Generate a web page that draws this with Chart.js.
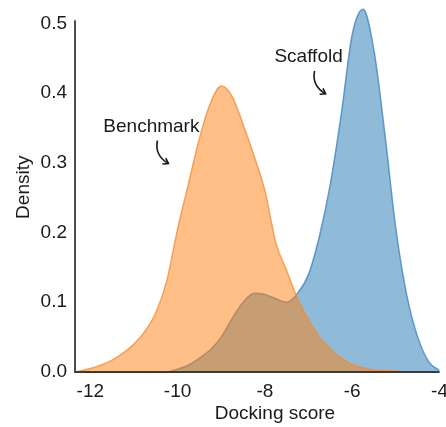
<!DOCTYPE html>
<html>
<head>
<meta charset="utf-8">
<script src="https://cdn.jsdelivr.net/npm/chart.js@4.4.1/dist/chart.umd.min.js"></script>
<style>
  html, body { margin: 0; padding: 0; background: #fff; overflow: hidden; }
  canvas { display: block; margin-top: -17px; }
</style>
</head>
<body>
<canvas id="chart" width="456" height="444" style="width:456px;height:444px"></canvas>
<script>
// docking score grid (x) and the two density curves
const scores = [-12.35, -12, -11.75, -11.5, -11.25, -11, -10.75, -10.5, -10.25, -10,
  -9.75, -9.5, -9.25, -9, -8.75, -8.5, -8.25, -8, -7.75, -7.5, -7.25, -7,
  -6.75, -6.5, -6.25, -6, -5.75, -5.5, -5.25, -5, -4.75, -4.5, -4.25, -4];

const benchmark = [0, 0.005, 0.01, 0.017, 0.027, 0.04, 0.058, 0.085, 0.13, 0.205,
  0.27, 0.335, 0.385, 0.41, 0.395, 0.355, 0.31, 0.26, 0.185, 0.145, 0.105, 0.075,
  0.05, 0.033, 0.02, 0.011, 0.006, 0.003, 0.002, 0.001, 0, 0, 0, 0];

const scaffold = [0, 0, 0, 0, 0, 0, 0, 0, 0, 0.004,
  0.01, 0.02, 0.032, 0.05, 0.077, 0.1, 0.113, 0.111, 0.105, 0.1, 0.113, 0.14,
  0.195, 0.27, 0.37, 0.484, 0.52, 0.46, 0.34, 0.205, 0.11, 0.05, 0.015, 0.002];

const xTicks = [-12, -10, -8, -6, -4];
const yTicks = [0, 0.1, 0.2, 0.3, 0.4, 0.5];

const toPoints = (ys) => scores.map((x, i) => ({ x: x, y: ys[i] }));

const FONT = "'Liberation Sans', Arial, sans-serif";

// text labels with little curved arrows, plus the two axis lines
const extras = {
  id: "extras",
  afterDatasetsDraw(chart) {
    const { ctx, scales: { x, y }, chartArea } = chart;
    ctx.save();

    // axis lines
    ctx.strokeStyle = "#3a3a3a";
    ctx.lineWidth = 1.8;
    ctx.beginPath();
    ctx.moveTo(chartArea.left, y.getPixelForValue(0.5) - 3);
    ctx.lineTo(chartArea.left, y.getPixelForValue(0));
    ctx.lineTo(x.getPixelForValue(-4), y.getPixelForValue(0));
    ctx.stroke();

    const notes = [
      { text: "Benchmark", x: -10.6, y: 0.352 },
      { text: "Scaffold", x: -7.0, y: 0.452 },
    ];
    ctx.font = "19px " + FONT;
    ctx.fillStyle = "#1a1a1a";
    ctx.textAlign = "center";
    ctx.textBaseline = "middle";
    notes.forEach((n) => {
      const px = x.getPixelForValue(n.x);
      const py = y.getPixelForValue(n.y);
      ctx.fillText(n.text, px, py);

      // curved arrow below the label
      const ax = px + 6;
      const ay = py + 14;
      const ex = ax + 11, ey = ay + 23;
      ctx.strokeStyle = "#1a1a1a";
      ctx.lineWidth = 1.6;
      ctx.beginPath();
      ctx.moveTo(ax, ay);
      ctx.quadraticCurveTo(ax - 3, ay + 15, ex, ey);
      ctx.stroke();
      const ang = Math.atan2(ey - (ay + 15), ex - (ax - 3));
      ctx.beginPath();
      ctx.moveTo(ex - 6 * Math.cos(ang - 0.6), ey - 6 * Math.sin(ang - 0.6));
      ctx.lineTo(ex, ey);
      ctx.lineTo(ex - 6 * Math.cos(ang + 0.6), ey - 6 * Math.sin(ang + 0.6));
      ctx.stroke();
    });

    // x axis title (sits a bit right of centre in the reference)
    ctx.font = "19px " + FONT;
    ctx.fillText("Docking score", chartArea.left + 200, chartArea.bottom + 42);
    ctx.restore();
  },
};

const ctx = document.getElementById("chart").getContext("2d");
const myChart = new Chart(ctx, {
  type: "line",
  data: {
    datasets: [
      {
        label: "Benchmark",
        data: toPoints(benchmark),
        fill: "origin",
        backgroundColor: "rgba(255, 127, 14, 0.5)",
        borderColor: "rgba(240, 140, 50, 0.75)",
        borderWidth: 1.5,
        pointRadius: 0,
        cubicInterpolationMode: "monotone",
      },
      {
        label: "Scaffold",
        data: toPoints(scaffold),
        fill: "origin",
        backgroundColor: "rgba(31, 119, 180, 0.5)",
        borderColor: "rgba(60, 130, 190, 0.75)",
        borderWidth: 1.5,
        pointRadius: 0,
        cubicInterpolationMode: "monotone",
      },
    ],
  },
  options: {
    responsive: false,
    animation: false,
    layout: {
      padding: { top: 0, right: 6, left: 0, bottom: 0 },
    },
    plugins: {
      legend: { display: false },
      tooltip: { enabled: false },
    },
    scales: {
      x: {
        type: "linear",
        min: -12.35,
        max: -4,
        grid: { display: false, drawTicks: false },
        border: { display: false },
        afterBuildTicks: (scale) => {
          scale.ticks = xTicks.map((v) => ({ value: v }));
        },
        afterFit: (scale) => {
          scale.height = 55;
        },
        ticks: {
          color: "#1a1a1a",
          padding: 8,
          maxRotation: 0,
          font: { family: FONT, size: 19 },
        },
        title: { display: false },
      },
      y: {
        type: "linear",
        min: 0,
        max: 0.53,
        grid: { display: false, drawTicks: false },
        border: { display: false },
        afterBuildTicks: (scale) => {
          scale.ticks = yTicks.map((v) => ({ value: v }));
        },
        afterFit: (scale) => {
          scale.width = 75;
        },
        ticks: {
          color: "#1a1a1a",
          padding: 8,
          font: { family: FONT, size: 19 },
          callback: (v) => Number(v).toFixed(1),
        },
        title: {
          display: true,
          text: "Density",
          color: "#1a1a1a",
          padding: { top: 12, bottom: 0 },
          font: { family: FONT, size: 19 },
        },
      },
    },
  },
  plugins: [extras],
});
</script>
</body>
</html>
